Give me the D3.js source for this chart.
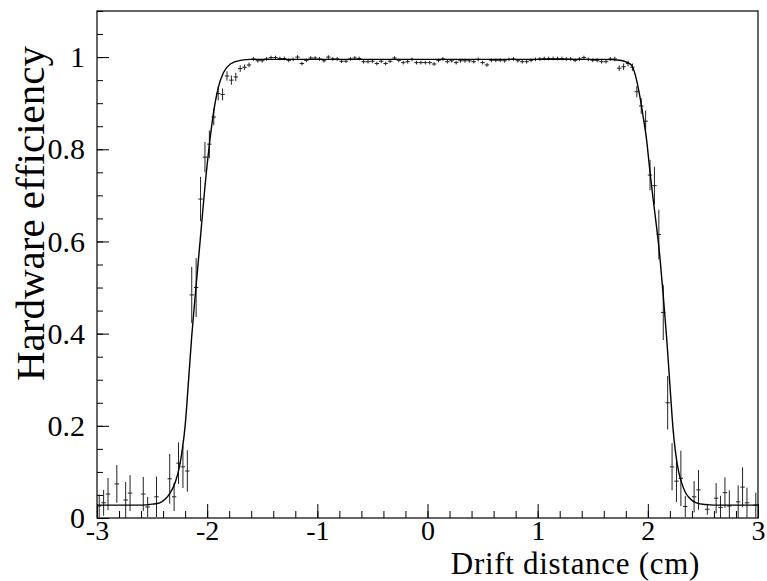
<!DOCTYPE html>
<html><head><meta charset="utf-8">
<script src="https://cdn.jsdelivr.net/npm/d3@7"></script>
<style>
body{margin:0;background:#fff;}
svg{display:block;}
text{font-family:"Liberation Serif","Times New Roman",serif;fill:#000;}
</style>
</head><body>
<svg id="chart" width="767" height="581"></svg>
<script>
// ---- data ----
const binCenters = [
 -2.98,-2.94,-2.90,-2.82,-2.74,-2.70,-2.58,-2.54,-2.46,-2.34,-2.30,-2.26,-2.22,-2.18,
 -2.14,-2.10,-2.06,-2.02,-1.98,-1.94,-1.90,-1.86,-1.82,-1.78,-1.74,-1.70,-1.66,-1.62,
 -1.58,-1.54,-1.50,-1.46,-1.42,-1.38,-1.34,-1.30,-1.26,-1.22,-1.18,-1.14,-1.10,-1.06,-1.02,
 -0.98,-0.94,-0.90,-0.86,-0.82,-0.78,-0.74,-0.70,-0.66,-0.62,-0.58,-0.54,-0.50,-0.46,-0.42,
 -0.38,-0.34,-0.30,-0.26,-0.22,-0.18,-0.14,-0.10,-0.06,-0.02,0.02,0.06,0.10,0.14,0.18,
 0.22,0.26,0.30,0.34,0.38,0.42,0.46,0.50,0.54,0.58,0.62,0.66,0.70,0.74,0.78,0.82,0.86,
 0.90,0.94,0.98,1.02,1.06,1.10,1.14,1.18,1.22,1.26,1.30,1.34,1.38,1.42,1.46,1.50,1.54,
 1.58,1.62,1.66,1.70,
 1.74,1.78,1.82,1.86,1.90,1.94,1.98,2.02,2.06,2.10,2.14,2.18,2.22,2.26,2.30,2.34,
 2.42,2.46,2.54,2.62,2.66,2.70,2.74,2.82,2.86,2.90,2.98
];
const efficiency = [
 0.026,0.033,0.052,0.074,0.039,0.054,0.052,0.024,0.046,0.085,0.046,0.119,0.111,0.102,
 0.484,0.500,0.692,0.783,0.811,0.870,0.921,0.919,0.959,0.950,0.957,0.975,0.978,0.983,
 0.996,0.992,0.992,0.996,0.999,0.999,0.997,0.997,0.993,0.995,1.000,0.986,0.993,0.998,0.998,
 0.996,0.992,1.000,0.996,0.996,0.991,0.991,0.996,0.998,0.997,0.990,0.990,0.991,0.986,0.991,
 0.986,0.991,0.998,0.993,0.988,0.990,0.995,0.988,0.988,0.988,0.988,0.985,0.993,0.996,0.990,
 0.992,0.988,0.992,0.992,0.992,0.990,0.995,0.988,0.983,0.993,0.993,0.993,0.992,0.995,0.996,0.992,0.990,
 0.990,0.993,0.995,0.996,0.997,0.997,0.997,0.997,0.997,0.996,0.996,0.993,0.996,0.999,0.995,0.993,0.993,
 0.990,0.990,0.996,0.996,
 0.976,0.979,0.986,0.978,0.925,0.894,0.861,0.744,0.721,0.615,0.446,0.250,0.111,0.080,0.086,0.025,
 0.046,0.061,0.019,0.043,0.023,0.055,0.026,0.035,0.067,0.033,0.028
];
const effError = [
 0.025,0.028,0.035,0.041,0.039,0.039,0.037,0.022,0.044,0.054,0.031,0.045,0.046,0.045,
 0.061,0.064,0.048,0.033,0.030,0.018,0.015,0.013,0.010,0.010,0.009,0.007,0.006,0.005,
 0.004,0.004,0.004,0.004,0.004,0.004,0.004,0.004,0.004,0.004,0.004,0.004,0.004,0.004,0.004,
 0.004,0.004,0.004,0.004,0.004,0.004,0.004,0.004,0.004,0.004,0.004,0.004,0.004,0.004,0.004,
 0.004,0.004,0.004,0.004,0.004,0.004,0.004,0.004,0.004,0.004,0.004,0.004,0.004,0.004,0.004,
 0.004,0.004,0.004,0.004,0.004,0.004,0.004,0.004,0.004,0.004,0.004,0.004,0.004,0.004,0.004,0.004,0.004,
 0.004,0.004,0.004,0.004,0.004,0.004,0.004,0.004,0.004,0.004,0.004,0.004,0.004,0.004,0.004,0.004,0.004,
 0.004,0.004,0.004,0.005,
 0.006,0.007,0.006,0.008,0.012,0.017,0.023,0.033,0.041,0.054,0.060,0.058,0.051,0.045,0.060,0.023,
 0.034,0.043,0.012,0.033,0.025,0.033,0.034,0.036,0.043,0.033,0.027
];
const binHalfWidth = 0.02;

// fit curve
const fitX = [-3.0,-2.6,-2.5,-2.43,-2.38,-2.337,-2.29,-2.25,-2.225,-2.2,-2.185,-2.14,-2.10,-2.055,-2.019,-1.98,-1.944,-1.898,-1.853,-1.79,-1.70,-1.60,-1.0,0,1.0,1.6,1.747,1.808,1.853,1.898,1.928,1.958,1.989,2.019,2.049,2.08,2.11,2.14,2.171,2.20,2.23,2.25,2.28,2.31,2.34,2.38,2.44,2.53,2.6,3.0];
const fitY = [0.028,0.028,0.030,0.033,0.041,0.054,0.077,0.113,0.150,0.200,0.245,0.395,0.505,0.625,0.722,0.810,0.877,0.935,0.966,0.985,0.993,0.995,0.995,0.995,0.995,0.995,0.993,0.989,0.982,0.950,0.914,0.870,0.820,0.752,0.690,0.630,0.565,0.482,0.390,0.290,0.190,0.145,0.100,0.074,0.056,0.043,0.033,0.029,0.028,0.028];

const xTicks = [-3,-2,-1,0,1,2,3];
const xTickLabels = ["-3","-2","-1","0","1","2","3"];
const yTicks = [0,0.2,0.4,0.6,0.8,1];
const yTickLabels = ["0","0.2","0.4","0.6","0.8","1"];
const xTitle = "Drift distance (cm)";
const yTitle = "Hardware efficiency";

// ---- layout ----
const W = 767, H = 581;
const L = 97, R = 758, T = 11, B = 518;

const svg = d3.select("#chart");
const x = d3.scaleLinear().domain([-3, 3]).range([L, R]);
const y = d3.scaleLinear().domain([0, 1.1]).range([B, T]);

// minor ticks
const xMinor = d3.range(-3, 3.0001, 0.2).map(v => +v.toFixed(2));
const yMinor = d3.range(0, 1.1001, 0.05).map(v => +v.toFixed(2));

const gxm = svg.append("g").attr("transform", `translate(0,${B})`)
  .call(d3.axisBottom(x).tickValues(xMinor).tickSize(-7).tickFormat(""));
const gx = svg.append("g").attr("transform", `translate(0,${B})`)
  .call(d3.axisBottom(x).tickValues(xTicks).tickSize(-14).tickPadding(2)
    .tickFormat((d, i) => xTickLabels[i]));
const gym = svg.append("g").attr("transform", `translate(${L},0)`)
  .call(d3.axisLeft(y).tickValues(yMinor).tickSize(-6).tickFormat(""));
const gy = svg.append("g").attr("transform", `translate(${L},0)`)
  .call(d3.axisLeft(y).tickValues(yTicks).tickSize(-12).tickPadding(12)
    .tickFormat((d, i) => yTickLabels[i]));

[gxm, gx, gym, gy].forEach(g => {
  g.select(".domain").remove();
  g.selectAll("line").attr("stroke", "#000").attr("stroke-width", 1);
  g.selectAll("text").attr("font-size", 28).attr("font-family", "Liberation Serif").attr("fill", "#000");
});
gy.selectAll("text").attr("font-size", 30);

// frame
svg.append("rect").attr("x", L).attr("y", T).attr("width", R - L).attr("height", B - T)
  .attr("fill", "none").attr("stroke", "#000").attr("stroke-width", 1.2);

// data points with error bars
const pts = svg.append("g");
binCenters.forEach((xc, i) => {
  const g = pts.append("g").attr("stroke", "#222").attr("stroke-width", 1);
  g.append("line").attr("x1", x(xc - binHalfWidth)).attr("x2", x(xc + binHalfWidth))
    .attr("y1", y(efficiency[i])).attr("y2", y(efficiency[i]));
  g.append("line").attr("x1", x(xc)).attr("x2", x(xc))
    .attr("y1", y(Math.max(0, efficiency[i] - effError[i]))).attr("y2", y(efficiency[i] + effError[i]));
});

// fit curve
const fitPts = fitX.map((v, i) => [v, fitY[i]]);
svg.append("path").datum(fitPts)
  .attr("d", d3.line().x(d => x(d[0])).y(d => y(d[1])).curve(d3.curveMonotoneX))
  .attr("fill", "none").attr("stroke", "#000").attr("stroke-width", 1.4);

// titles
svg.append("text").attr("x", 700).attr("y", 574).attr("text-anchor", "end")
  .attr("font-size", 31).attr("letter-spacing", "0.7px").text(xTitle);
svg.append("text").attr("transform", `translate(44,46) rotate(-90)`).attr("text-anchor", "end")
  .attr("font-size", 41).text(yTitle);
</script>
</body></html>
